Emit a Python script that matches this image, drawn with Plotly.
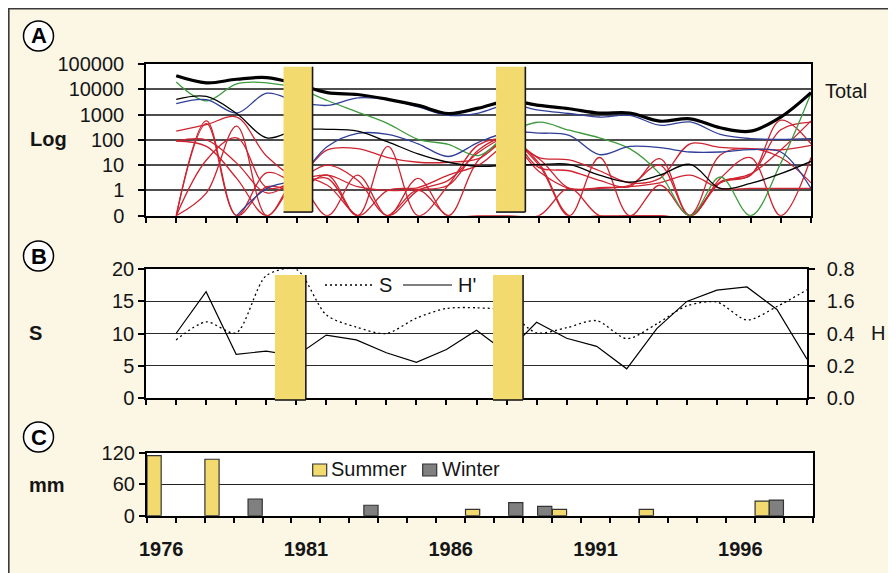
import plotly.graph_objects as go

# ---------------- data ----------------
years = list(range(1976, 1998))          # panels A and B

# Panel A (abundance, log scale; 0 = none)
total      = [34000, 18000, 25000, 29000, 16000, 7400, 6200, 4000, 2300, 1100, 1800,
              3500, 2300, 1700, 1150, 1150, 550, 680, 300, 220, 800, 7400]
black_thin = [4000, 5200, 1100, 120, 250, 260, 220, 83, 28, 13, 9,
              10, 10.5, 10.7, 4, 2.1, 4, 10.7, 1.2, 1.9, 4.6, 14]
green      = [19500, 3500, 16500, 18000, 11000, 3600, 1260, 440, 105, 66, 24,
              180, 500, 240, 120, 45, 4.5, 0, 3.4, 0, 12, 7000]
blue_upper = [2700, 3900, 1150, 7000, 3200, 2300, 4600, 3900, 2000, 930, 1150,
              2500, 1500, 1100, 800, 930, 380, 510, 165, 112, 105, 112]
blue_lower = [None, None, 0, 1.2, 3, 55, 180, 165, 70, 22, 80,
              200, 185, 150, 26, 55, 49, 33, 33, 41, 33, 1.2]
red_1 = [220, 400, 800, 22, 4, 40, 45, 20, 13, 13, 18, 100, 20, 16, 6, 2, 3, 70, 50, 45, 40, 60]
red_2 = [90, 100, 12, 0.8, 2.5, 4, 1.4, 1, 1.1, 1.6, 40, 125, 8, 6, 2.5, 1.4, 18, 0, 2, 4, 600, 70]
red_3 = [90, 55, 3, 0, 2, 0, 4, 0, 3, 0, 16, 80, 5.6, 1.2, 1.2, 1.4, 2, 4, 1.2, 1.2, 1.2, 1.2]
red_4 = [0, 560, 0, 5, 2, 3, 0, 55, 0, 1.6, 63, 100, 10, 0, 20, 0, 1.6, 0, 2.2, 4, 250, 500]
red_5 = [0, 440, 0, 1.4, 1, 4, 0, 1, 1.3, 4, 10, 63, 18, 1.2, 1.3, 1.6, 10, 0, 3, 20, 0, 20]
red_6 = [0, 0.8, 350, 0, 3, 1.6, 0, 0, 1, 0, 0, 0, 0, 1.2, 0, 0, 0, 0, 2, 4.5, 40, 560]
red_7 = [0, 16, 120, 1.3, 2.5, 10, 2.5, 0, 1, 2.5, 32, 110, 12, 0, 0, 0, 0, 0, 25, 45, 20, 2]
reds = [red_1, red_2, red_3, red_4, red_5, red_6, red_7]
log_tickvals = [0.1, 1, 10, 100, 1000, 10000, 100000]
log_ticktext = ["0", "1", "10", "100", "1000", "10000", "100000"]

# Panel B
s_values = [9.0, 11.8, 10.1, 19.0, 20.0, 12.9, 11.0, 10.0, 12.4, 13.9, 14.0,
            13.5, 10.1, 10.9, 12.0, 9.2, 11.5, 14.3, 14.9, 12.1, 14.2, 16.8]
h_values = [0.40, 0.66, 0.27, 0.29, 0.26, 0.39, 0.36, 0.28, 0.22, 0.30, 0.42,
            0.28, 0.47, 0.37, 0.32, 0.18, 0.43, 0.60, 0.67, 0.69, 0.55, 0.24]
s_ticks = [0, 5, 10, 15, 20]
h_tickvals = [0, 0.2, 0.4, 0.6, 0.8]
h_ticktext = ["0.0", "0.2", "0.4", "1.6", "0.8"]

# Panel C (rainfall, mm)
rain_years = list(range(1976, 1999))
summer = [115, 0, 108, 0, 0, 0, 0, 0, 0, 0, 0, 12, 0, 0, 12, 0, 0, 12, 0, 0, 0, 28, 0]
winter = [0, 0, 0, 32, 0, 0, 0, 20, 0, 0, 0, 0, 25, 18, 0, 0, 0, 0, 0, 0, 0, 30, 0]
year_labels = [1976, 1981, 1986, 1991, 1996]

# gaps (yellow blocks) in year units
gaps_A = [(1979.55, 1980.51), (1986.58, 1987.55)]
gaps_B = [(1979.29, 1980.32), (1986.55, 1987.55)]

# ---------------- styling ----------------
# The page body adds an 8px offset, so the figure is 888x565 and laid out in
# screen coordinates shifted by that offset.
OFF = 8
W, H = 888, 565
def fx(x): return (x - OFF) / W
def fy(y): return 1 - (y - OFF) / H

FONT = "Liberation Sans, Arial, Helvetica, sans-serif"
TXT = "#151515"
RED, GREEN, BLUE = "#CE2430", "#3E9B3E", "#2F3F98"
YELLOW = "#F2DA6E"
CREAM = "#FCF6E5"

def zf(vals):
    # zero counts sit on the "0" line of the log axis
    return [None if v is None else (v if v > 0 else 0.1) for v in vals]

def nz(vals):
    return [v if v else None for v in vals]

fig = go.Figure()

lw = 1.3
for r in reds:
    fig.add_trace(go.Scatter(x=years, y=zf(r), mode="lines", xaxis="x", yaxis="y",
                             line=dict(color=RED, width=lw, shape="spline", smoothing=1),
                             showlegend=False, hoverinfo="skip"))
fig.add_trace(go.Scatter(x=years, y=zf(green), mode="lines", xaxis="x", yaxis="y",
                         line=dict(color=GREEN, width=lw, shape="spline", smoothing=1),
                         showlegend=False, hoverinfo="skip"))
for b in (blue_lower, blue_upper):
    fig.add_trace(go.Scatter(x=years, y=zf(b), mode="lines", xaxis="x", yaxis="y",
                             line=dict(color=BLUE, width=lw, shape="spline", smoothing=1),
                             showlegend=False, hoverinfo="skip"))
fig.add_trace(go.Scatter(x=years, y=zf(black_thin), mode="lines", xaxis="x", yaxis="y",
                         line=dict(color="black", width=lw, shape="spline", smoothing=1),
                         showlegend=False, hoverinfo="skip"))
fig.add_trace(go.Scatter(x=years, y=zf(total), mode="lines", name="Total", xaxis="x", yaxis="y",
                         line=dict(color="black", width=3.2, shape="spline", smoothing=1),
                         showlegend=False, hoverinfo="skip"))

# Panel B
fig.add_trace(go.Scatter(x=years, y=s_values, mode="lines", name="S", xaxis="x2", yaxis="y2",
                         line=dict(color="black", width=1.3, dash="2px,3px", shape="spline", smoothing=0.8),
                         showlegend=False))
fig.add_trace(go.Scatter(x=years, y=h_values, mode="lines", name="H'", xaxis="x2", yaxis="y3",
                         line=dict(color="black", width=1.2), showlegend=False))

# Panel C
fig.add_trace(go.Bar(x=rain_years, y=nz(summer), name="Summer", xaxis="x3", yaxis="y4",
                     marker=dict(color=YELLOW, line=dict(color="#333", width=1.2)), showlegend=False))
fig.add_trace(go.Bar(x=rain_years, y=nz(winter), name="Winter", xaxis="x3", yaxis="y4",
                     marker=dict(color="#808080", line=dict(color="#333", width=1.2)), showlegend=False))

axis_common = dict(showline=True, linecolor="black", linewidth=1.5, ticks="outside",
                   ticklen=6, tickwidth=1.5, tickcolor="black", zeroline=False, automargin=False,
                   tickfont=dict(family=FONT, size=20, color=TXT))

shapes = []
# frame border and white strip beyond its right edge
shapes.append(dict(type="rect", xref="paper", yref="paper", x0=fx(889), x1=1.01, y0=-0.01, y1=1.01,
                   fillcolor="white", line=dict(width=0), layer="below"))
shapes.append(dict(type="rect", xref="paper", yref="paper", x0=fx(8.8), x1=fx(889), y0=-0.05, y1=fy(8.8),
                   line=dict(color="#3a3a3a", width=1.6), fillcolor="rgba(0,0,0,0)", layer="below"))

# yellow blocks
def block(xref, yref, xa, xb, ya, yb):
    shapes.append(dict(type="rect", xref=xref, yref=yref, x0=xa, x1=xb, y0=ya, y1=yb,
                       fillcolor=YELLOW, line=dict(width=0)))
    shapes.append(dict(type="line", xref=xref, yref=yref, x0=xb, x1=xb, y0=ya, y1=yb,
                       line=dict(color="#1a1a1a", width=1.6)))
    shapes.append(dict(type="line", xref=xref, yref=yref, x0=xa, x1=xb, y0=ya, y1=ya,
                       line=dict(color="#1a1a1a", width=1.6)))

for a, b in gaps_A:
    block("x", "y domain", a, b, 0.024, 0.982)
for a, b in gaps_B:
    block("x2", "y2 domain", a, b, -0.018, 0.956)

# circled panel letters
annotations = []
for letter, cy in [("A", 36), ("B", 256), ("C", 437)]:
    shapes.append(dict(type="circle", xref="paper", yref="paper",
                       x0=fx(23.5), x1=fx(53.5), y0=fy(cy + 15), y1=fy(cy - 15),
                       line=dict(color="black", width=1.5), fillcolor="white", layer="below"))
    annotations.append(dict(text=letter, x=fx(38.5), y=fy(cy), xref="paper", yref="paper",
                            showarrow=False, xanchor="center", yanchor="middle",
                            font=dict(family=FONT, size=22, color="black", weight="bold")))

# legend B (manual)
shapes.append(dict(type="line", xref="paper", yref="paper", x0=fx(325), x1=fx(375), y0=fy(285), y1=fy(285),
                   line=dict(color="black", width=1.3, dash="2px,3px")))
shapes.append(dict(type="line", xref="paper", yref="paper", x0=fx(403), x1=fx(452), y0=fy(285), y1=fy(285),
                   line=dict(color="black", width=1.2)))
# legend C (manual)
shapes.append(dict(type="rect", xref="paper", yref="paper", x0=fx(312.7), x1=fx(326.7), y0=fy(476), y1=fy(464),
                   fillcolor=YELLOW, line=dict(color="#333", width=1.2)))
shapes.append(dict(type="rect", xref="paper", yref="paper", x0=fx(422.7), x1=fx(436.7), y0=fy(476), y1=fy(464),
                   fillcolor="#808080", line=dict(color="#333", width=1.2)))

def txt(t, x, y, xanchor="left", bold=False, size=20):
    annotations.append(dict(text=t, x=fx(x), y=fy(y), xref="paper", yref="paper", showarrow=False,
                            xanchor=xanchor, yanchor="middle",
                            font=dict(family=FONT, size=size, color=TXT,
                                      weight="bold" if bold else "normal")))

txt("Total", 823, 91)
txt("Log", 48, 139, xanchor="center", bold=True)
txt("S", 35, 333, xanchor="center", bold=True)
txt("H", 878, 333, xanchor="center")
txt("mm", 47, 485, xanchor="center", bold=True)
txt("S", 377, 285)
txt("H'", 456, 285)
txt("Summer", 329, 469)
txt("Winter", 440, 469)

fig.update_layout(
    template="none",
    width=W, height=H, margin=dict(l=0, r=0, t=0, b=0, pad=0), autosize=False,
    paper_bgcolor=CREAM, plot_bgcolor="white",
    font=dict(family=FONT, size=20, color=TXT),
    barmode="group", bargap=0.02, bargroupgap=0,
    showlegend=False,
    xaxis=dict(domain=[fx(146), fx(811)], range=[1975, 1997], anchor="y",
               tickvals=list(range(1975, 1998)), showticklabels=False, showgrid=False,
               mirror=True, **axis_common),
    yaxis=dict(domain=[fy(215.7), fy(64)], type="log", range=[-1, 5], anchor="x",
               tickvals=log_tickvals, ticktext=log_ticktext, showgrid=True,
               gridcolor="#4d4d4d", gridwidth=2, mirror=True, ticklabelstandoff=10,
               **axis_common),
    xaxis2=dict(domain=[fx(146), fx(807)], range=[1975, 1997], anchor="y2",
                tickvals=list(range(1975, 1998)), showticklabels=False, showgrid=False,
                mirror=True, **axis_common),
    yaxis2=dict(domain=[fy(397.7), fy(269.3)], range=[0, 20], anchor="x2",
                tickvals=s_ticks, showgrid=True, gridcolor="#2a2a2a", gridwidth=1.3,
                ticklabelstandoff=0, **axis_common),
    yaxis3=dict(overlaying="y2", side="right", range=[0, 0.8], anchor="x2",
                tickvals=h_tickvals, ticktext=h_ticktext, showgrid=False,
                ticklabelstandoff=8, **axis_common),
    xaxis3=dict(domain=[fx(146.7), fx(812.7)], range=[1975.5, 1998.5], anchor="y4",
                tickvals=year_labels, showgrid=False, mirror=True, automargin=False,
                showline=True, linecolor="black", linewidth=1.5, ticks="", zeroline=False,
                tickfont=dict(family=FONT, size=20, color=TXT, weight="bold"),
                ticklabelstandoff=15,
                minor=dict(tickvals=[1975.5 + i for i in range(24)], ticks="outside",
                           ticklen=6, tickwidth=1.5, tickcolor="black", showgrid=False)),
    yaxis4=dict(domain=[fy(515.7), fy(453)], range=[0, 120], anchor="x3",
                tickvals=[0, 60, 120], showgrid=True, gridcolor="#222", gridwidth=1.3,
                mirror=True, ticklabelstandoff=0, **axis_common),
    shapes=shapes, annotations=annotations,
)

fig.write_html("out.html")
